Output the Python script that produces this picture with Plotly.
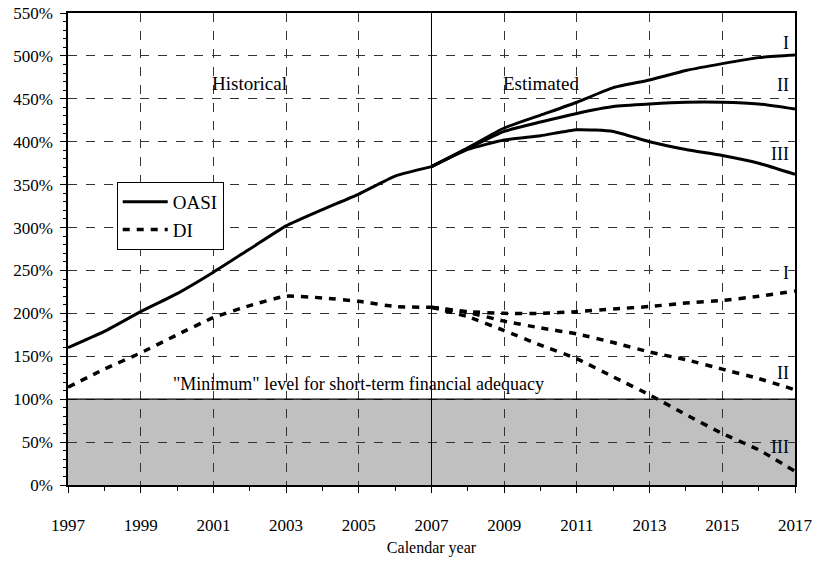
import plotly.graph_objects as go

hist_years = [1997, 1998, 1999, 2000, 2001, 2002, 2003, 2004, 2005, 2006, 2007]
oasi_hist = [160, 179, 202, 223, 248, 275, 302, 321, 339, 360, 371]
di_hist = [114, 135, 154, 175, 195, 209, 220, 218, 214, 208, 207]

est_years = [2007, 2008, 2009, 2010, 2011, 2012, 2013, 2014, 2015, 2016, 2017]
oasi_I = [371, 393, 416, 431, 446, 463, 472, 483, 491, 498, 501]
oasi_II = [371, 392, 412, 423, 433, 441, 444, 446, 446, 444, 438]
oasi_III = [371, 391, 402, 407, 414, 412, 400, 391, 384, 375, 362]
di_I = [207, 202, 200, 200, 202, 205, 208, 212, 215, 220, 226]
di_II = [207, 201, 191, 183, 176, 166, 155, 146, 135, 124, 111]
di_III = [207, 196, 180, 163, 147, 126, 105, 82, 60, 41, 16]

alt_labels = ["I", "II", "III"]
oasi_label_y = [515, 466, 386]
di_label_y = [247, 131, 44]

FONT = "Liberation Serif"
solid = dict(color="black", width=3, shape="spline", smoothing=0.5)
dashed = dict(color="black", width=3.5, dash="7px,7px", shape="spline", smoothing=0.5)

fig = go.Figure()
fig.add_trace(go.Scatter(x=hist_years, y=oasi_hist, mode="lines", line=solid, name="OASI"))
fig.add_trace(go.Scatter(x=hist_years, y=di_hist, mode="lines", line=dashed, name="DI"))
for ys in (oasi_I, oasi_II, oasi_III):
    fig.add_trace(go.Scatter(x=est_years, y=ys, mode="lines", line=solid, showlegend=False))
for ys in (di_I, di_II, di_III):
    fig.add_trace(go.Scatter(x=est_years, y=ys, mode="lines", line=dashed, showlegend=False))

fig.add_shape(type="rect", xref="x", yref="y", x0=1997, x1=2017, y0=0, y1=100,
              fillcolor="#c0c0c0", line=dict(width=0), layer="below")
fig.add_shape(type="line", xref="x", yref="y", x0=1997, x1=2017, y0=100, y1=100,
              line=dict(color="black", width=1.2))
fig.add_shape(type="line", xref="x", yref="y", x0=2007, x1=2007, y0=0, y1=550,
              line=dict(color="black", width=1))

for lab, yv in zip(alt_labels, oasi_label_y):
    fig.add_annotation(x=2016.9, y=yv, text=lab, showarrow=False, xanchor="right",
                       font=dict(family=FONT, size=18, color="black"))
for lab, yv in zip(alt_labels, di_label_y):
    fig.add_annotation(x=2016.9, y=yv, text=lab, showarrow=False, xanchor="right",
                       font=dict(family=FONT, size=18, color="black"))

fig.add_annotation(x=2002, y=468, text="Historical", showarrow=False,
                   font=dict(family=FONT, size=19, color="black"))
fig.add_annotation(x=2010, y=468, text="Estimated", showarrow=False,
                   font=dict(family=FONT, size=19, color="black"))
fig.add_annotation(x=2005.0, y=118, text="\"Minimum\" level for short-term financial adequacy",
                   showarrow=False, font=dict(family=FONT, size=18, color="black"))

fig.update_layout(
    width=820, height=561,
    margin=dict(l=68, r=25, t=13, b=76),
    paper_bgcolor="white", plot_bgcolor="white",
    font=dict(family=FONT, size=16, color="black"),
    legend=dict(x=0.067, y=0.642, xanchor="left", yanchor="top",
                bordercolor="black", borderwidth=1, bgcolor="white",
                font=dict(family=FONT, size=19, color="black"),
                itemwidth=45, tracegroupgap=0),
    xaxis=dict(range=[1997, 2017], tick0=1997, dtick=2, automargin=False,
               showline=True, linecolor="black", linewidth=1.5, mirror=True,
               ticks="outside", ticklen=6, tickcolor="black",
               minor=dict(dtick=1, ticks="outside", ticklen=4, tickcolor="black", showgrid=False),
               showgrid=True, gridcolor="#333", griddash="dash", gridwidth=1,
               zeroline=False, ticklabelstandoff=18, ticklabeloverflow="allow",
               tickfont=dict(family=FONT, size=17, color="black"),
               title=dict(text="Calendar year", font=dict(family=FONT, size=16, color="black"), standoff=8)),
    yaxis=dict(range=[0, 550], dtick=50, ticksuffix="%", automargin=False,
               showline=True, linecolor="black", linewidth=1.5, mirror=True,
               ticks="outside", ticklen=6, tickcolor="black",
               minor=dict(dtick=10, ticks="outside", ticklen=3, tickcolor="black", showgrid=False),
               showgrid=True, gridcolor="#333", griddash="dash", gridwidth=1,
               zeroline=False, ticklabelstandoff=4, ticklabeloverflow="allow",
               tickfont=dict(family=FONT, size=17, color="black")),
)

# remove the page's default 8px body margin so the figure fills the window exactly
fig.write_html("out.html", config={"displayModeBar": False},
               post_script="document.body.style.margin='0';")
